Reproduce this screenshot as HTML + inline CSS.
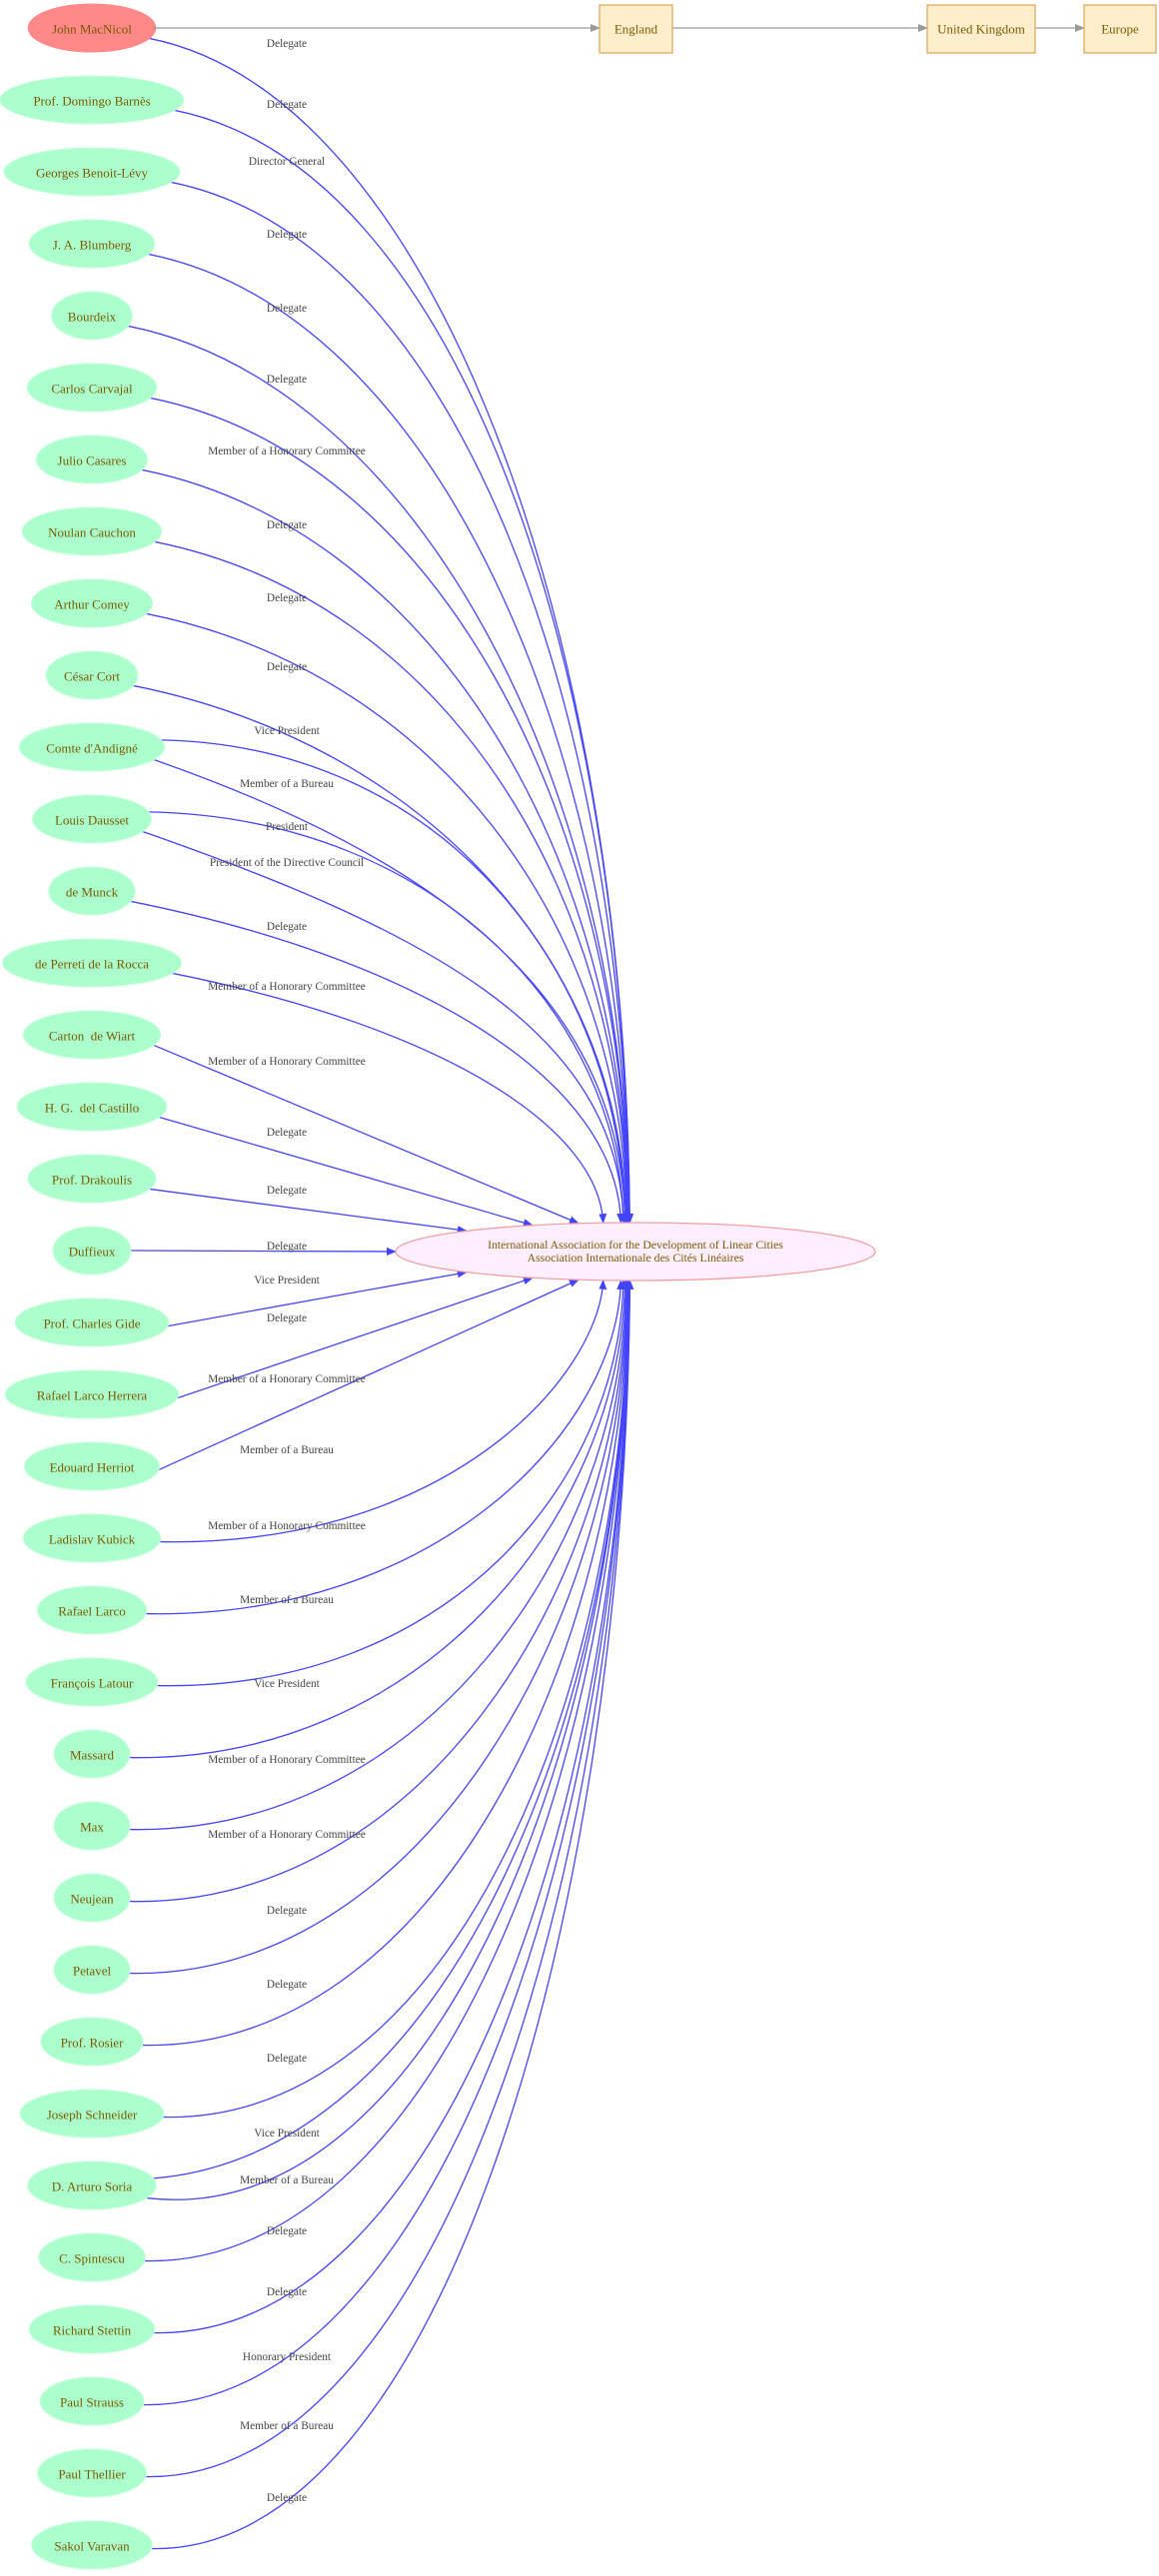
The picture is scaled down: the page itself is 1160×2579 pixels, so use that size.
<!DOCTYPE html>
<html><head><meta charset="utf-8">
<style>
html,body{margin:0;padding:0;background:#fff;}
svg{display:block;}
.nt{font-family:"Liberation Serif",serif;font-size:13px;fill:#7a5a00;white-space:pre;}
.lt{font-family:"Liberation Serif",serif;font-size:11.3px;fill:#444;}
</style></head>
<body>
<svg id="s" width="1160" height="2579" viewBox="0 0 1160 2579" xmlns="http://www.w3.org/2000/svg">
<defs>
<marker id="ab" markerWidth="10" markerHeight="8" refX="9" refY="4" orient="auto" markerUnits="userSpaceOnUse"><path d="M0,0 L10,4 L0,8 z" fill="#4444ff"/></marker>
<marker id="ag" markerWidth="10" markerHeight="8" refX="9" refY="4" orient="auto" markerUnits="userSpaceOnUse"><path d="M0,0 L10,4 L0,8 z" fill="#999"/></marker>
</defs>
<g id="edges"></g>
<g id="nodes"></g>
<line x1="153" y1="28" x2="600" y2="28" stroke="#999" stroke-width="1.3" marker-end="url(#ag)"/>
<line x1="673" y1="28" x2="928" y2="28" stroke="#999" stroke-width="1.3" marker-end="url(#ag)"/>
<line x1="1036" y1="28" x2="1085" y2="28" stroke="#999" stroke-width="1.3" marker-end="url(#ag)"/>
<rect x="600" y="5" width="73" height="48" fill="#ffeecc" stroke="#e0a860" stroke-width="1.3"/>
<text class="nt" x="636.5" y="29" text-anchor="middle" dominant-baseline="central">England</text>
<rect x="928" y="5" width="108" height="48" fill="#ffeecc" stroke="#e0a860" stroke-width="1.3"/>
<text class="nt" x="982" y="29" text-anchor="middle" dominant-baseline="central">United Kingdom</text>
<rect x="1085" y="5" width="72" height="48" fill="#ffeecc" stroke="#e0a860" stroke-width="1.3"/>
<text class="nt" x="1121" y="29" text-anchor="middle" dominant-baseline="central">Europe</text>
<ellipse cx="636" cy="1253" rx="240" ry="29" fill="#ffeeff" stroke="#f0a0a0" stroke-width="1.3"/>
<text class="nt" x="636" y="1246" text-anchor="middle" dominant-baseline="central" style="font-size:11.8px">International Association for the Development of Linear Cities</text>
<text class="nt" x="636" y="1259" text-anchor="middle" dominant-baseline="central" style="font-size:11.8px">Association Internationale des Cités Linéaires</text>
<g id="labels"></g>
</svg>
<script>
var names=["John MacNicol","Prof. Domingo Barnès","Georges Benoit-Lévy","J. A. Blumberg","Bourdeix","Carlos Carvajal","Julio Casares","Noulan Cauchon","Arthur Comey","César Cort","Comte d'Andigné","Louis Dausset","de Munck","de Perreti de la Rocca","Carton  de Wiart","H. G.  del Castillo","Prof. Drakoulis","Duffieux","Prof. Charles Gide","Rafael Larco Herrera","Edouard Herriot","Ladislav Kubick","Rafael Larco","François Latour","Massard","Max","Neujean","Petavel","Prof. Rosier","Joseph Schneider","D. Arturo Soria","C. Spintescu","Richard Stettin","Paul Strauss","Paul Thellier","Sakol Varavan"];
var E=[[0,"Delegate",26],[1,"Delegate",63],[2,"Director General",98],[3,"Delegate",142],[4,"Delegate",187],[5,"Delegate",230],[6,"Member of a Honorary Committee",274],[7,"Delegate",319],[8,"Delegate",363],[9,"Delegate",405],[10,"Vice President",444,-1],[10,"Member of a Bureau",476,1],[11,"President",502,-1],[11,"President of the Directive Council",524,1],[12,"Delegate",563],[13,"Member of a Honorary Committee",599],[14,"Member of a Honorary Committee",645],[15,"Delegate",688],[16,"Delegate",723],[17,"Delegate",757],[18,"Vice President",778],[19,"Delegate",801],[20,"Member of a Honorary Committee",838],[21,"Member of a Bureau",881],[22,"Member of a Honorary Committee",927],[23,"Member of a Bureau",972],[24,"Vice President",1023],[25,"Member of a Honorary Committee",1069],[26,"Member of a Honorary Committee",1115],[27,"Delegate",1161],[28,"Delegate",1206],[29,"Delegate",1251],[30,"Vice President",1296,-1],[30,"Member of a Bureau",1325,1],[31,"Delegate",1356],[32,"Delegate",1393],[33,"Honorary President",1432],[34,"Member of a Bureau",1474],[35,"Delegate",1518]];
var NS="http://www.w3.org/2000/svg";
function el(t,a,p){var e=document.createElementNS(NS,t);for(var k in a)e.setAttribute(k,a[k]);p.appendChild(e);return e;}
function nrm(x,y){var l=Math.hypot(x,y)||1;return [x/l,y/l];}
var gN=document.getElementById("nodes"),gE=document.getElementById("edges"),gL=document.getElementById("labels");
var CX=92,RY=24,rxs=[];
names.forEach(function(n,i){
  var cy=28+i*72;
  var ell=el("ellipse",{cx:CX,cy:cy,ry:RY,rx:50,fill:i==0?"#ff8888":"#aaffcc",stroke:i==0?"#ff8888":"#c8ffdc","stroke-width":1},gN);
  var t=el("text",{"class":"nt",x:CX,y:cy+1,"text-anchor":"middle","dominant-baseline":"central"},gN);
  t.textContent=n;
  var w=t.getComputedTextLength();var rx=Math.max(38,w*0.75+4);
  ell.setAttribute("rx",rx);rxs[i]=rx;
});
var ftab=[1,0.7,0.42,0.225,0.12];
E.forEach(function(e){
  var i=e[0],cy=28+i*72,rx=rxs[i],dy=cy-1253,n=Math.abs(i-17),sg=dy<0?1:-1;
  var f=n<5?ftab[n]:0.5/Math.pow(n,1.5);
  var ex=632-236*f,ey=1253-sg*29*Math.sqrt(Math.max(0,1-f*f));
  if(n==0){ey=1253;ex=396;}
  var ang;
  if(n==0) ang=0;
  else if(e[3]!==undefined) ang=(e[3]<0)?-0.3:0.55;
  else ang=sg>0?0.45:0.15;
  var sx=CX+rx*Math.cos(ang),sy=cy+RY*Math.sin(ang);
  var d;
  if(n<=3){
    d="M"+sx+","+sy+" L"+ex+","+ey;
  } else {
    var slope;
    if(sg>0) slope=0.2; else slope=0.02;
    if(e[3]!==undefined) slope=e[3]<0?(sg>0?0.02:-0.08):(sg>0?0.35:0.12);
    var t0=nrm(1,slope);
    var L1=Math.min(290,(ex-sx)*0.72);
    var c1x=sx+t0[0]*L1,c1y=sy+t0[1]*L1;
    var k=Math.min(0.5,0.09*n);
    var c2x=ex-4,c2y=ey-sg*k*Math.abs(sy-ey);
    d="M"+sx+","+sy+" C"+c1x+","+c1y+" "+c2x+","+c2y+" "+ex+","+ey;
  }
  el("path",{d:d,fill:"none",stroke:"#4444ff","stroke-width":1.3,"marker-end":"url(#ab)"},gE);
  var lt=el("text",{"class":"lt",x:287,y:Math.round(e[2]*1.647)+1,"text-anchor":"middle","dominant-baseline":"central"},gL);
  lt.textContent=e[1];
});
</script>
</body></html>
